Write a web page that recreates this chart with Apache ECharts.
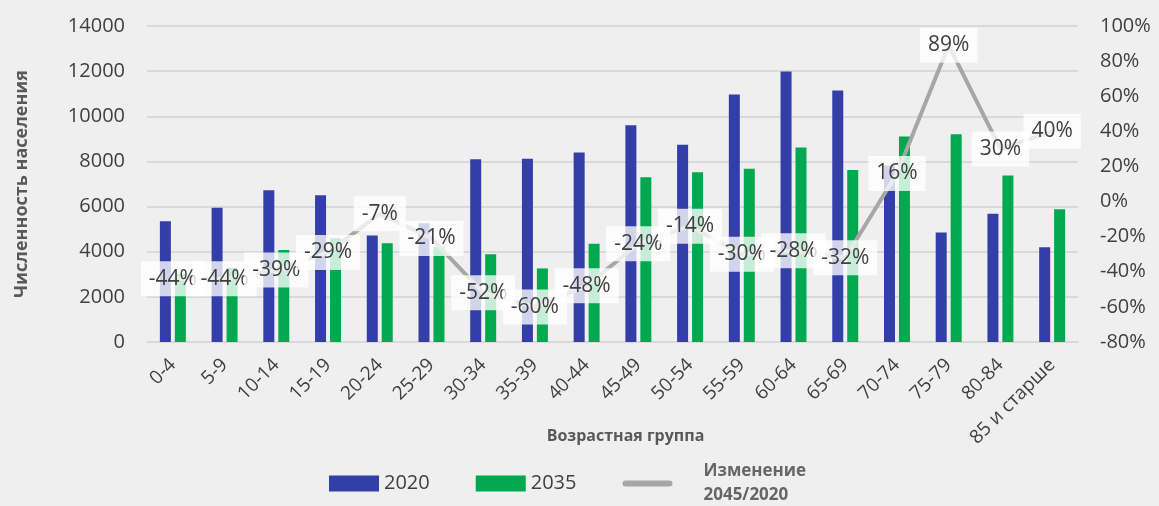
<!DOCTYPE html>
<html>
<head>
<meta charset="utf-8">
<script src="https://cdn.jsdelivr.net/npm/echarts@6/dist/echarts.min.js"></script>
<style>
html, body { margin: 0; padding: 0; background: #efefef; }
#chart { width: 1159px; height: 506px; }
</style>
</head>
<body>
<div id="chart"></div>
<script>
const ageGroups = ['0-4', '5-9', '10-14', '15-19', '20-24', '25-29', '30-34', '35-39', '40-44',
    '45-49', '50-54', '55-59', '60-64', '65-69', '70-74', '75-79', '80-84', '85 и старше'];
const pop2020 = [5350, 5950, 6720, 6500, 4720, 5260, 8100, 8120, 8400, 9600, 8740, 10960, 11980, 11140, 7820, 4850, 5680, 4200];
const pop2035 = [3020, 3290, 4080, 4600, 4380, 4200, 3890, 3260, 4350, 7300, 7520, 7680, 8620, 7620, 9100, 9200, 7380, 5880];
const change = [-44, -44, -39, -29, -7, -21, -52, -60, -48, -24, -14, -30, -28, -32, 16, 89, 30, 40];
const leftTicks = { min: 0, max: 14000, step: 2000 };
const rightTicks = { min: -80, max: 100, step: 20 };

const BLUE = '#343ea8';
const GREEN = '#00a94f';
const GREY = '#a6a6a6';
const TXT = '#404040';
const FONT = '"Open Sans", "Noto Sans", sans-serif';
const LINE_NAME = 'Изменение\n2045/2020';

const chart = echarts.init(document.getElementById('chart'));

const option = {
    backgroundColor: '#efefef',
    textStyle: { fontFamily: FONT },
    animation: false,
    grid: { left: 147, right: 81, top: 26, bottom: 164 },
    legend: {
        left: 324,
        top: 458,
        itemWidth: 50,
        itemHeight: 16,
        itemGap: 46,
        data: [
            { name: '2020', icon: 'rect' },
            { name: '2035', icon: 'rect' },
            { name: LINE_NAME, icon: 'path://M3 0H53A3 3 0 0 1 53 7H3A3 3 0 0 1 3 0Z', itemStyle: { color: GREY, opacity: 1 } }
        ],
        formatter: function (name) {
            if (name === LINE_NAME) {
                return '{b|Изменение}\n{b|2045/2020}';
            }
            return name;
        },
        textStyle: {
            fontSize: 20,
            color: TXT,
            fontFamily: FONT,
            rich: {
                b: { fontSize: 17, fontWeight: 'bold', color: '#666', lineHeight: 24, fontFamily: FONT, padding: [0, 0, 0, 26] }
            }
        }
    },
    xAxis: {
        type: 'category',
        data: ageGroups,
        name: 'Возрастная группа',
        nameLocation: 'middle',
        nameGap: 86,
        nameMoveOverlap: false,
        nameTextStyle: { fontSize: 16, fontWeight: 'bold', color: '#595959', padding: [0, 0, 0, 26] },
        axisLine: { lineStyle: { color: '#d9d9d9', width: 2 } },
        axisTick: { show: false },
        axisLabel: { rotate: 45, fontSize: 19, color: TXT, margin: 20, interval: 0 }
    },
    yAxis: [
        {
            type: 'value',
            min: leftTicks.min,
            max: leftTicks.max,
            interval: leftTicks.step,
            name: 'Численность населения',
            nameLocation: 'middle',
            nameGap: 116,
            nameTextStyle: { fontSize: 18, fontWeight: 'bold', color: '#595959' },
            axisLabel: { fontSize: 20, color: TXT, margin: 22, formatter: function (v) { return String(v); } },
            splitLine: { lineStyle: { color: '#d9d9d9', width: 2 } }
        },
        {
            type: 'value',
            min: rightTicks.min,
            max: rightTicks.max,
            interval: rightTicks.step,
            position: 'right',
            axisLabel: { fontSize: 20, color: TXT, margin: 22, formatter: '{value}%' },
            splitLine: { show: false }
        }
    ],
    series: [
        {
            name: '2020',
            type: 'bar',
            data: pop2020,
            barWidth: 11,
            barGap: '36%',
            itemStyle: { color: BLUE }
        },
        {
            name: '2035',
            type: 'bar',
            data: pop2035,
            barWidth: 11,
            itemStyle: { color: GREEN }
        },
        {
            name: LINE_NAME,
            type: 'line',
            yAxisIndex: 1,
            data: change,
            symbol: 'circle',
            symbolSize: 0,
            showSymbol: true,
            z: 5,
            itemStyle: { color: 'rgba(0,0,0,0)' },
            lineStyle: { color: GREY, width: 4 },
            label: {
                show: true,
                position: 'inside',
                formatter: '{c}%',
                fontSize: 21,
                color: TXT,
                backgroundColor: 'rgba(255,255,255,0.78)',
                padding: [8, 8, 6, 8]
            }
        }
    ]
};

chart.setOption(option);
</script>
</body>
</html>
